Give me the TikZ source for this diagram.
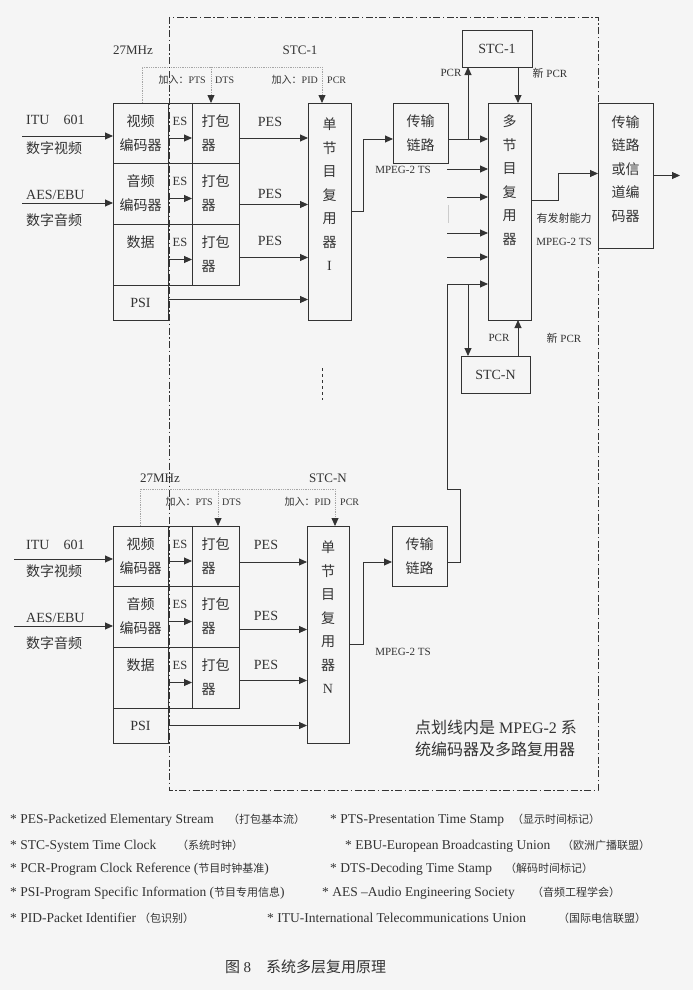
\documentclass[tikz,border=0pt]{standalone}
\usepackage{fontspec}
\setmainfont{Liberation Serif}
\newfontfamily\cjk{Noto Sans CJK SC}
\usetikzlibrary{arrows.meta, positioning}
\colorlet{ink}{black!80}

\begin{document}
\begin{tikzpicture}[
  x=1pt, y=-1pt,
  box/.style={draw=ink, line width=0.9pt, inner sep=0pt, outer sep=0pt, align=center, text=ink, font=\fontsize{14}{24}\selectfont},
  zhbox/.style={box, font=\cjk\fontsize{14}{24}\selectfont},
  esbox/.style={box, minimum width=24pt, font=\fontsize{12.5}{24}\selectfont},
  vtext/.style={inner sep=0pt, align=center, text=ink, font=\cjk\fontsize{14}{23.5}\selectfont},
  lbl/.style={inner sep=0pt, text=ink, font=\fontsize{14}{16}\selectfont},
  zhlbl/.style={inner sep=0pt, text=ink, font=\cjk\fontsize{14}{16}\selectfont},
  tiny/.style={inner sep=0pt, text=ink, font=\fontsize{10}{12}\selectfont},
  note/.style={inner sep=0pt, text=ink, font=\fontsize{11}{13}\selectfont},
  leg/.style={inner sep=0pt, anchor=west, text=ink, font=\fontsize{13.5}{15}\selectfont},
  arrow/.style={-{Triangle[length=8pt, width=7pt]}, draw=ink, line width=0.9pt},
  clk/.style={draw=gray!70, line width=0.8pt, densely dotted},
  clkarrow/.style={clk, -{Triangle[length=8pt, width=7pt, color=ink]}},
  border/.style={draw=ink, line width=0.8pt, dash pattern=on 7pt off 2.5pt on 1.5pt off 2.5pt},
]
\path[use as bounding box, fill=black!4] (0,0) rectangle (693,990);

% Program 1
\node[zhbox, minimum width=55pt, minimum height=60pt, anchor=north west] (vid1) at (113,103) {视频\\编码器};
\node[zhbox, minimum width=55pt, minimum height=61pt, below=0pt of vid1] (aud1) {音频\\编码器};
\node[zhbox, minimum width=55pt, minimum height=61pt, below=0pt of aud1] (dat1) {数据\\\phantom{数据}};
\node[box, minimum width=55pt, minimum height=35pt, below=0pt of dat1] (psi1) {PSI};
\node[esbox, minimum height=60pt, right=0pt of vid1] (es1v) {ES\\\phantom{ES}};
\node[esbox, minimum height=61pt, right=0pt of aud1] (es1a) {ES\\\phantom{ES}};
\node[esbox, minimum height=61pt, right=0pt of dat1] (es1d) {ES\\\phantom{ES}};
\node[zhbox, align=left, minimum width=47pt, minimum height=60pt, right=0pt of es1v] (pk1v) {打包\\器};
\node[zhbox, align=left, minimum width=47pt, minimum height=61pt, right=0pt of es1a] (pk1a) {打包\\器};
\node[zhbox, align=left, minimum width=47pt, minimum height=61pt, right=0pt of es1d] (pk1d) {打包\\器};
\node[box, minimum width=43pt, minimum height=217pt, anchor=north west] (mux1) at (308,103) {};
\node[vtext, below=15pt of mux1.north] (mux1txt) {单\\节\\目\\复\\用\\器\\\rmfamily I};
\node[zhbox, minimum width=55pt, minimum height=60pt, anchor=north west] (link1) at (393,103) {传输\\链路};

% Program N
\node[zhbox, minimum width=55pt, minimum height=60pt, anchor=north west] (vid2) at (113,526) {视频\\编码器};
\node[zhbox, minimum width=55pt, minimum height=61pt, below=0pt of vid2] (aud2) {音频\\编码器};
\node[zhbox, minimum width=55pt, minimum height=61pt, below=0pt of aud2] (dat2) {数据\\\phantom{数据}};
\node[box, minimum width=55pt, minimum height=35pt, below=0pt of dat2] (psi2) {PSI};
\node[esbox, minimum height=60pt, right=0pt of vid2] (es2v) {ES\\\phantom{ES}};
\node[esbox, minimum height=61pt, right=0pt of aud2] (es2a) {ES\\\phantom{ES}};
\node[esbox, minimum height=61pt, right=0pt of dat2] (es2d) {ES\\\phantom{ES}};
\node[zhbox, align=left, minimum width=47pt, minimum height=60pt, right=0pt of es2v] (pk2v) {打包\\器};
\node[zhbox, align=left, minimum width=47pt, minimum height=61pt, right=0pt of es2a] (pk2a) {打包\\器};
\node[zhbox, align=left, minimum width=47pt, minimum height=61pt, right=0pt of es2d] (pk2d) {打包\\器};
\node[box, minimum width=42pt, minimum height=217pt, anchor=north west] (mux2) at (307,526) {};
\node[vtext, below=15pt of mux2.north] (mux2txt) {单\\节\\目\\复\\用\\器\\\rmfamily N};
\node[zhbox, minimum width=55pt, minimum height=60pt, anchor=north west] (link2) at (392,526) {传输\\链路};

% Multi-program part
\node[box, minimum width=70pt, minimum height=37pt, anchor=north west] (stc1) at (462,30) {STC-1};
\node[box, minimum width=43pt, minimum height=217pt, anchor=north west] (multi) at (488,103) {};
\node[vtext, below=12pt of multi.north] (multitxt) {多\\节\\目\\复\\用\\器};
\node[box, minimum width=69pt, minimum height=37pt, anchor=north west] (stcN) at (461,356) {STC-N};
\node[box, minimum width=55pt, minimum height=145pt, anchor=north west] (chan) at (598,103) {};
\node[vtext, below=12pt of chan.north] (chantxt) {传输\\链路\\或信\\道编\\码器};

% Inputs and labels
\node[lbl, anchor=west] (itu1) at (26,120) {ITU\hspace{14pt}601};
\node[zhlbl, anchor=west] (dv1) at (26,148) {数字视频};
\node[lbl, anchor=west] (aes1) at (26,195) {AES/EBU};
\node[zhlbl, anchor=west] (da1) at (26,220) {数字音频};
\node[lbl, anchor=west] (itu2) at (26,545) {ITU\hspace{14pt}601};
\node[zhlbl, anchor=west] (dv2) at (26,571) {数字视频};
\node[lbl, anchor=west] (aes2) at (26,618) {AES/EBU};
\node[zhlbl, anchor=west] (da2) at (26,643) {数字音频};
\node[lbl] (pes1v) at (270,122) {PES};
\node[lbl] (pes1a) at (270,194) {PES};
\node[lbl] (pes1d) at (270,241) {PES};
\node[lbl] (pes2v) at (266,545) {PES};
\node[lbl] (pes2a) at (266,616) {PES};
\node[lbl] (pes2d) at (266,665) {PES};

% Clock annotations
\node[lbl, font=\fontsize{13}{15}\selectfont] (mhz1) at (133,50) {27MHz};
\node[lbl, font=\fontsize{13}{15}\selectfont] (stclab1) at (300,50) {STC-1};
\node[tiny, anchor=east] (addpts1) at (206,80) {{\cjk 加入：}PTS};
\node[tiny, anchor=west] (dts1) at (215,80) {DTS};
\node[tiny, anchor=east] (addpid1) at (318,80) {{\cjk 加入：}PID};
\node[tiny, anchor=west] (pcr1) at (327,80) {PCR};
\node[lbl, font=\fontsize{13}{15}\selectfont] (mhz2) at (160,478) {27MHz};
\node[lbl, font=\fontsize{13}{15}\selectfont] (stclab2) at (328,478) {STC-N};
\node[tiny, anchor=east] (addpts2) at (213,502) {{\cjk 加入：}PTS};
\node[tiny, anchor=west] (dts2) at (222,502) {DTS};
\node[tiny, anchor=east] (addpid2) at (331,502) {{\cjk 加入：}PID};
\node[tiny, anchor=west] (pcr2) at (340,502) {PCR};

% Stream labels
\node[note] (ts1) at (403,170) {MPEG-2 TS};
\node[note] (ts2) at (403,652) {MPEG-2 TS};
\node[note] (pcrup) at (451,73) {PCR};
\node[note] (newpcr1) at (550,73) {{\cjk 新} PCR};
\node[note] (pcrdn) at (499,338) {PCR};
\node[note] (newpcr2) at (564,338) {{\cjk 新} PCR};
\node[note, font=\cjk\fontsize{11}{13}\selectfont] (radio) at (564,218) {有发射能力};
\node[note] (ts3) at (564,242) {MPEG-2 TS};
\node[inner sep=0pt, anchor=west, align=left, text=ink, font=\fontsize{16}{22}\selectfont] (remark) at (415,738) {{\cjk 点划线内是} MPEG-2 {\cjk 系}\\{\cjk 统编码器及多路复用器}};

% Coordinates
\coordinate (in1v) at (22,136);
\coordinate (in1a) at (22,203);
\coordinate (in2v) at (14,559);
\coordinate (in2a) at (14,626);
\coordinate (clk1) at (142,67);
\coordinate (pts1) at (211,67);
\coordinate (pid1) at (322,67);
\coordinate (clk2) at (140,489);
\coordinate (pts2) at (218,489);
\coordinate (pid2) at (335,489);
\coordinate (tap1) at (468,139);
\coordinate (tap2) at (468,284);
\coordinate (feed2) at (447,169);
\coordinate (feed3) at (447,197);
\coordinate (feed4) at (447,233);
\coordinate (feed5) at (447,257);
\coordinate (jogA) at (460,489);
\coordinate (jogB) at (447,284);
\coordinate (out) at (680,175.5);

% Arrows, program 1
\draw[arrow] (in1v) -- (in1v -| vid1.west);
\draw[arrow] (in1a) -- (in1a -| aud1.west);
\draw[arrow] ([yshift=-5pt]es1v.west) -- ([yshift=-5pt]es1v.east);
\draw[arrow] ([yshift=-5pt]es1a.west) -- ([yshift=-5pt]es1a.east);
\draw[arrow] ([yshift=-5pt]es1d.west) -- ([yshift=-5pt]es1d.east);
\draw[arrow] ([yshift=-5pt]pk1v.east) -- ([yshift=-5pt]pk1v.east -| mux1.west);
\draw[arrow] ([yshift=-11pt]pk1a.east) -- ([yshift=-11pt]pk1a.east -| mux1.west);
\draw[arrow] ([yshift=-3pt]pk1d.east) -- ([yshift=-3pt]pk1d.east -| mux1.west);
\draw[arrow] ([yshift=3pt]psi1.east) -- ([yshift=3pt]psi1.east -| mux1.west);
\draw[arrow] (mux1.east) -- ++(12,0) |- ([yshift=-6pt]link1.west);
\draw[clk] (clk1 |- vid1.north) -- (clk1) -- (pid1);
\draw[clkarrow] (pts1) -- (pts1 |- pk1v.north);
\draw[clkarrow] (pid1) -- (pid1 |- mux1.north);

% Arrows, program N
\draw[arrow] (in2v) -- (in2v -| vid2.west);
\draw[arrow] (in2a) -- (in2a -| aud2.west);
\draw[arrow] ([yshift=-5pt]es2v.west) -- ([yshift=-5pt]es2v.east);
\draw[arrow] ([yshift=-5pt]es2a.west) -- ([yshift=-5pt]es2a.east);
\draw[arrow] ([yshift=-5pt]es2d.west) -- ([yshift=-5pt]es2d.east);
\draw[arrow] ([yshift=-6pt]pk2v.east) -- ([yshift=-6pt]pk2v.east -| mux2.west);
\draw[arrow] ([yshift=-13pt]pk2a.east) -- ([yshift=-13pt]pk2a.east -| mux2.west);
\draw[arrow] ([yshift=-3pt]pk2d.east) -- ([yshift=-3pt]pk2d.east -| mux2.west);
\draw[arrow] (psi2.east) -- (psi2.east -| mux2.west);
\draw[arrow] ([yshift=-10pt]mux2.east) -- ++(14,0) |- ([yshift=-6pt]link2.west);
\draw[clk] (clk2 |- vid2.north) -- (clk2) -- (pid2);
\draw[clkarrow] (pts2) -- (pts2 |- pk2v.north);
\draw[clkarrow] (pid2) -- (pid2 |- mux2.north);

% Arrows, multi-program mux
\draw[arrow] ([yshift=-6pt]link1.east) -- ([yshift=-6pt]link1.east -| multi.west);
\draw[arrow] (tap1) -- (tap1 |- stc1.south);
\draw[arrow] ([xshift=-14pt]stc1.south east) -- ([xshift=-14pt]stc1.south east |- multi.north);
\draw[arrow] (feed2) -- (feed2 -| multi.west);
\draw[arrow] (feed3) -- (feed3 -| multi.west);
\draw[arrow] (feed4) -- (feed4 -| multi.west);
\draw[arrow] (feed5) -- (feed5 -| multi.west);
\draw[gray!40, line width=1pt] (448,205) -- (448,223);
\draw[arrow] ([yshift=-6pt]link2.east) -| (jogA) -| (jogB) -- (jogB -| multi.west);
\draw[arrow] (tap2) -- (tap2 |- stcN.north);
\draw[arrow] ([xshift=-12pt]stcN.north east) -- ([xshift=-12pt]stcN.north east |- multi.south);
\draw[arrow] ([yshift=11.5pt]multi.east) -- ++(27,0) |- ([yshift=2pt]chan.west);
\draw[arrow] (chan.east) -- (out);

% Boundary and repeat mark
\draw[border] (169,17) rectangle (598,790);
\draw[ink, dashed, line width=1pt] (322,368) -- (322,400);

% Legend
\node[leg] (lgpes) at (10,820) {\makebox[218pt][l]{* PES-Packetized Elementary Stream}{\cjk\fontsize{11}{13}\selectfont （打包基本流）}};
\node[leg] (lgpts) at (330,820) {\makebox[182pt][l]{* PTS-Presentation Time Stamp}{\cjk\fontsize{11}{13}\selectfont （显示时间标记）}};
\node[leg] (lgstc) at (10,846) {\makebox[167pt][l]{* STC-System Time Clock}{\cjk\fontsize{11}{13}\selectfont （系统时钟）}};
\node[leg] (lgebu) at (345,846) {\makebox[217pt][l]{* EBU-European Broadcasting Union}{\cjk\fontsize{11}{13}\selectfont （欧洲广播联盟）}};
\node[leg] (lgpcr) at (10,869) {* PCR-Program Clock Reference ({\cjk\fontsize{11}{13}\selectfont 节目时钟基准})};
\node[leg] (lgdts) at (330,869) {\makebox[175pt][l]{* DTS-Decoding Time Stamp}{\cjk\fontsize{11}{13}\selectfont （解码时间标记）}};
\node[leg] (lgpsi) at (10,893) {* PSI-Program Specific Information ({\cjk\fontsize{11}{13}\selectfont 节目专用信息})};
\node[leg] (lgaes) at (322,893) {\makebox[210pt][l]{* AES --Audio Engineering Society}{\cjk\fontsize{11}{13}\selectfont （音频工程学会）}};
\node[leg] (lgpid) at (10,918) {\makebox[129pt][l]{* PID-Packet Identifier}{\cjk\fontsize{11}{13}\selectfont （包识别）}};
\node[leg] (lgitu) at (267,918) {\makebox[291pt][l]{* ITU-International Telecommunications Union}{\cjk\fontsize{11}{13}\selectfont （国际电信联盟）}};
\node[inner sep=0pt, anchor=west, text=ink, font=\cjk\fontsize{15}{17}\selectfont] (figcap) at (225,967) {图 {\rmfamily 8}\quad 系统多层复用原理};

\end{tikzpicture}
\end{document}
